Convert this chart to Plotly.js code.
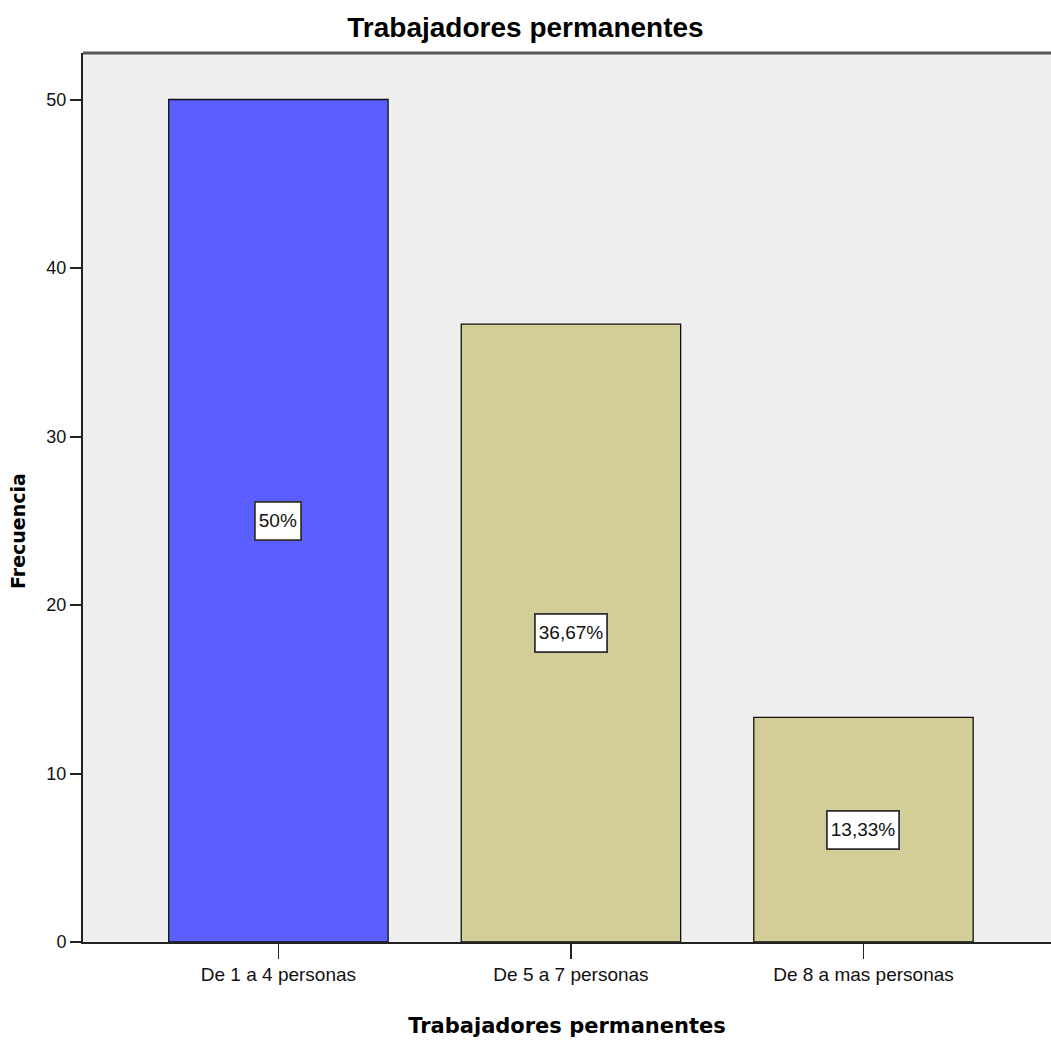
<!DOCTYPE html>
<html><head><meta charset="utf-8">
<script src="https://cdn.plot.ly/plotly-3.0.1.min.js"></script>
<style>html,body{margin:0;padding:0;background:#fff}#chart{width:1051px;height:1041px}</style>
</head><body><div id="chart"></div>
<script>
const categories = ["De 1 a 4 personas", "De 5 a 7 personas", "De 8 a mas personas"];
const frequencies = [50, 36.67, 13.33];
const percentLabels = ["50%", "36,67%", "13,33%"];
const barColors = ["#5B5FFF", "#D3CE98", "#D3CE98"];
const yTickValues = [0, 10, 20, 30, 40, 50];
const chartTitle = "Trabajadores permanentes";
const xTitle = "Trabajadores permanentes";
const yTitle = "Frecuencia";

const SANS = "'Liberation Sans', Arial, sans-serif";
const W = 1051, H = 1041;
const m = {l: 83, r: 0, t: 53, b: 99};
const plotW = W - m.l - m.r;

const trace = {
  type: 'bar',
  x: categories,
  y: frequencies,
  marker: {color: barColors, line: {color: '#111', width: 1.3}},
  hoverinfo: 'x+y'
};

const annotations = categories.map((c, i) => ({
  x: c, y: frequencies[i] / 2, xref: 'x', yref: 'y',
  text: percentLabels[i], showarrow: false,
  font: {family: SANS, size: 19, color: '#111'},
  height: 30,
  bgcolor: '#ffffff', bordercolor: '#333', borderwidth: 1.8, borderpad: 3
}));

annotations.push({
  text: '<b>' + yTitle + '</b>', textangle: -90, showarrow: false,
  xref: 'paper', yref: 'paper',
  x: (18 - m.l) / plotW, y: 1 - (531 - m.t) / (H - m.t - m.b),
  xanchor: 'center', yanchor: 'middle',
  font: {family: "'DejaVu Sans', sans-serif", size: 19, color: '#000'}
});

const layout = {
  width: W, height: H,
  margin: m,
  paper_bgcolor: '#ffffff',
  plot_bgcolor: '#EFEFEF',
  showlegend: false,
  bargap: 0.25,
  title: {
    text: '<b>' + chartTitle + '</b>',
    font: {family: SANS, size: 28, color: '#000'},
    x: 0.5, xref: 'container', xanchor: 'center',
    y: 1 - 27 / H, yref: 'container', yanchor: 'middle'
  },
  xaxis: {
    type: 'category',
    range: [-0.668, 2.641],
    showgrid: false, zeroline: false,
    showline: true, linecolor: '#222', linewidth: 1.5,
    ticks: 'outside', ticklen: 15, tickwidth: 1.5, tickcolor: '#222',
    tickfont: {family: SANS, size: 19, color: '#111'},
    title: {text: '<b>' + xTitle + '</b>', font: {family: "'DejaVu Sans', sans-serif", size: 21, color: '#000'}, standoff: 34}
  },
  yaxis: {
    range: [0, 52.76],
    tickvals: yTickValues,
    showgrid: false, zeroline: false,
    showline: true, linecolor: '#222', linewidth: 2,
    ticks: 'outside', ticklen: 11, tickwidth: 2, tickcolor: '#222',
    tickfont: {family: SANS, size: 18, color: '#111'}
  },
  shapes: [{
    type: 'line', xref: 'paper', yref: 'paper', x0: 0, x1: 1, y0: 1, y1: 1,
    line: {color: '#555', width: 3}
  }],
  annotations: annotations
};

Plotly.newPlot('chart', [trace], layout, {displayModeBar: false, staticPlot: true});
</script>
</body></html>
